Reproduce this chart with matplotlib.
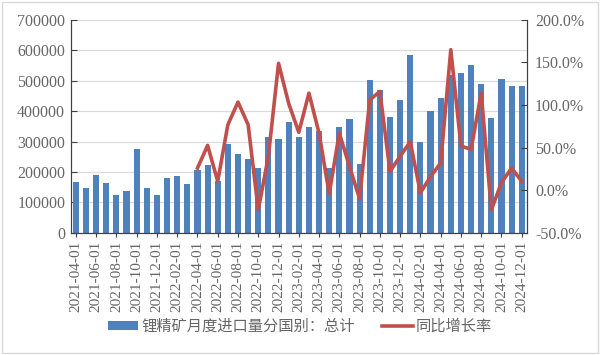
import numpy as np
import pandas as pd
from matplotlib import pyplot as plt
from matplotlib.patches import Rectangle
from matplotlib.ticker import FuncFormatter

plt.rcParams['font.family'] = ['Liberation Serif', 'Noto Sans CJK SC', 'DejaVu Sans']

# 月份（2021-04 ~ 2024-12）
meses = pd.date_range('2021-04-01', '2024-12-01', freq='MS').strftime('%Y-%m-%d').tolist()

# 锂精矿月度进口量（吨）
volume = [166000, 147000, 189000, 164000, 126000, 137000, 277000, 147000, 124000,
          179000, 188000, 161000, 206000, 224000, 172000, 293000, 259000, 244000,
          213000, 315000, 310000,
          364000, 315000, 347000, 334000, 213000, 347000, 374000, 228000, 501000,
          468000, 380000, 436000,
          585000, 298000, 400000, 442000, 520000, 524000, 551000, 490000, 377000,
          505000, 484000, 484000]

# 同比增长率（%），从 2022-04 开始
yoy_start = '2022-04-01'
yoy = [26, 52.7, 10.5, 77, 103.5, 77, -23, 40, 149,
       102, 68, 114, 67, -4, 67, 28, -10, 106, 116, 22, 40,
       57, -3, 16, 32, 165, 52, 48, 114, -23, 9, 26, 10.5]

azul = '#4f81bd'
vermelho = '#c0504d'
cinza = '#666666'

fig = plt.figure(figsize=(6, 3.55), dpi=100)
ax = fig.add_axes([0.118, 0.344, 0.76, 0.6])
ax2 = ax.twinx()

x = np.arange(len(meses))
b = ax.bar(x, volume, width=0.6, color=azul, zorder=2, label='锂精矿月度进口量分国别：总计')
i0 = meses.index(yoy_start)
l, = ax2.plot(x[i0:i0 + len(yoy)], yoy, color=vermelho, lw=2.6, label='同比增长率')

ax.set_xlim(-0.5, len(meses) - 0.5)
ax.set_ylim(0, 700000)
ax.set_yticks(np.arange(0, 700001, 100000))
ax2.set_ylim(-50, 200)
ax2.set_yticks(np.arange(-50, 201, 50))
ax2.yaxis.set_major_formatter(FuncFormatter(lambda v, p: '{:.1f}%'.format(v)))

ax.set_xticks(x[::2])
ax.set_xticklabels(meses[::2], rotation=90)
ax.grid(axis='y', color='#d9d9d9', lw=0.8, zorder=0)
ax.set_axisbelow(True)

for a in (ax, ax2):
    a.spines['top'].set_visible(False)
    for s in ('left', 'right', 'bottom'):
        a.spines[s].set_color('#404040')
ax.tick_params(axis='y', direction='in', length=4, labelsize=11.5, colors=cinza, pad=4)
ax.tick_params(axis='x', length=3, labelsize=11, colors=cinza, pad=3)
ax2.tick_params(axis='y', direction='in', length=4, labelsize=11.5, colors=cinza, pad=6)
for a in (ax, ax2):
    a.tick_params(axis='both', color='#404040')

fig.legend([b, l], [b.get_label(), l.get_label()], loc='center', bbox_to_anchor=(0.5, 0.08),
           ncol=2, frameon=False, fontsize=11, labelcolor=cinza, handlelength=2.0,
           handleheight=0.55, columnspacing=1.8, handletextpad=0.2)

fig.add_artist(Rectangle((0.004, 0.006), 0.992, 0.988, transform=fig.transFigure,
                         fill=False, edgecolor='#d9d9d9', lw=1))

fig.savefig('out.png', dpi=100)
